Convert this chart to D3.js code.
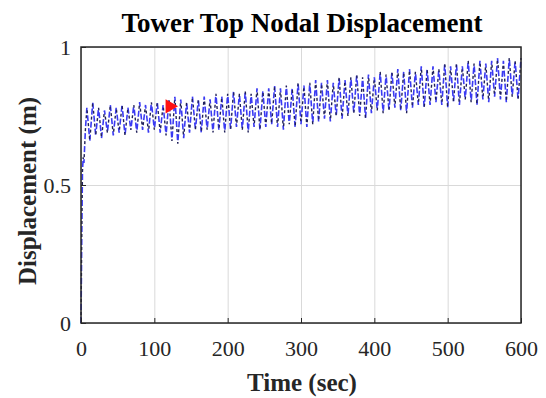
<!DOCTYPE html>
<html>
<head>
<meta charset="utf-8">
<script src="https://cdn.jsdelivr.net/npm/d3@7"></script>
<style>
  body { margin: 0; background: #fff; }
  svg text { font-family: "Liberation Serif", "Times New Roman", serif; }
</style>
</head>
<body>
<div id="box"></div>
<script>
// start-up of the response (time s, displacement m)
var riseTime = [0, 1, 2, 3, 4, 6];
var riseDisp = [0, 0.30, 0.55, 0.60, 0.58, 0.70];

// oscillation peaks, every 8 s starting at t = 8
var peakStart = 8;
var peakDisp = [
  0.78, 0.80, 0.78, 0.77, 0.79, 0.78, 0.79, 0.78, 0.79, 0.80,
  0.79, 0.80, 0.80, 0.79, 0.81, 0.82, 0.81, 0.80, 0.82, 0.81,
  0.82, 0.81, 0.83, 0.82, 0.83, 0.84, 0.83, 0.84, 0.83, 0.85,
  0.84, 0.85, 0.86, 0.85, 0.86, 0.85, 0.87, 0.86, 0.87, 0.88,
  0.87, 0.88, 0.87, 0.89, 0.88, 0.89, 0.90, 0.89, 0.90, 0.89,
  0.91, 0.90, 0.91, 0.92, 0.91, 0.92, 0.91, 0.93, 0.92, 0.93,
  0.92, 0.94, 0.93, 0.94, 0.93, 0.95, 0.94, 0.95, 0.94, 0.95,
  0.96, 0.95, 0.96, 0.95, 0.96
];

// oscillation troughs, every 8 s starting at t = 12
var troughStart = 12;
var troughDisp = [
  0.66, 0.68, 0.67, 0.69, 0.68, 0.69, 0.68, 0.70, 0.69, 0.70,
  0.69, 0.70, 0.69, 0.68, 0.66, 0.65, 0.67, 0.69, 0.70, 0.69,
  0.70, 0.69, 0.70, 0.69, 0.70, 0.71, 0.70, 0.69, 0.71, 0.70,
  0.71, 0.72, 0.71, 0.70, 0.72, 0.71, 0.72, 0.71, 0.72, 0.73,
  0.74, 0.73, 0.75, 0.74, 0.75, 0.76, 0.75, 0.74, 0.76, 0.77,
  0.76, 0.77, 0.78, 0.77, 0.76, 0.78, 0.79, 0.78, 0.79, 0.80,
  0.79, 0.78, 0.80, 0.79, 0.81, 0.80, 0.79, 0.81, 0.80, 0.82,
  0.81, 0.80, 0.82, 0.81
];
var cyclePeriod = 8;

var xTicks = [0, 100, 200, 300, 400, 500, 600];
var yTicks = [0, 0.5, 1];
var yTickLabels = ["0", "0.5", "1"];

// marked point
var marker = [121, 0.785];

var W = 546, H = 398;
var m = { left: 81, top: 47, right: 25, bottom: 75 };
var w = W - m.left - m.right,
    h = H - m.top - m.bottom;

// assemble the series
var series = [];
riseTime.forEach(function(t, i) { series.push([t, riseDisp[i]]); });
var n = Math.max(peakDisp.length, troughDisp.length);
for (var i = 0; i < n; i++) {
  if (i < peakDisp.length) series.push([peakStart + i * cyclePeriod, peakDisp[i]]);
  if (i < troughDisp.length) series.push([troughStart + i * cyclePeriod, troughDisp[i]]);
}

var x = d3.scaleLinear().domain([0, 600]).range([0, w]);
var y = d3.scaleLinear().domain([0, 1]).range([h, 0]);

var svg = d3.select("#box")
            .append("svg")
            .attr("width", W)
            .attr("height", H);

var g = svg.append("g")
           .attr("transform", "translate(" + m.left + "," + m.top + ")");

// grid
g.append("g")
 .attr("transform", "translate(0," + h + ")")
 .call(d3.axisBottom(x).tickValues(xTicks).tickSize(-h).tickFormat(""))
 .call(function(s) {
   s.select(".domain").remove();
   s.selectAll("line").attr("stroke", "#d9d9d9").attr("stroke-width", 1);
 });

g.append("g")
 .call(d3.axisLeft(y).tickValues(yTicks).tickSize(-w).tickFormat(""))
 .call(function(s) {
   s.select(".domain").remove();
   s.selectAll("line").attr("stroke", "#d9d9d9").attr("stroke-width", 1);
 });

// the data
var line = d3.line()
             .x(function(d) { return x(d[0]); })
             .y(function(d) { return y(d[1]); });

g.append("path")
 .datum(series)
 .attr("fill", "none")
 .attr("stroke", "#3a3af2")
 .attr("stroke-width", 1.6)
 .attr("stroke-dasharray", "6,7")
 .attr("d", line);

g.append("path")
 .datum(series)
 .attr("fill", "none")
 .attr("stroke", "#20205a")
 .attr("stroke-width", 1.4)
 .attr("stroke-dasharray", "3,10")
 .attr("stroke-dashoffset", -8)
 .attr("d", line);

g.append("path")
 .attr("transform", "translate(" + x(marker[0]) + "," + y(marker[1]) + ") rotate(90)")
 .attr("d", d3.symbol().type(d3.symbolTriangle).size(90))
 .attr("fill", "#ff1010");

// axes with inward ticks
var xAxis = g.append("g")
 .attr("transform", "translate(0," + h + ")")
 .call(d3.axisBottom(x).tickValues(xTicks).tickSize(-5).tickPadding(17));

var yAxis = g.append("g")
 .call(d3.axisLeft(y).tickValues(yTicks).tickSize(-5).tickPadding(10)
         .tickFormat(function(d, i) { return yTickLabels[i]; }));

[xAxis, yAxis].forEach(function(a) {
  a.select(".domain").remove();
  a.selectAll("line").attr("stroke", "#262626");
  a.selectAll("text")
   .attr("font-family", "Liberation Serif")
   .attr("font-size", "22px")
   .attr("fill", "#262626");
});

// box
g.append("rect")
 .attr("width", w)
 .attr("height", h)
 .attr("fill", "none")
 .attr("stroke", "#262626")
 .attr("stroke-width", 1.5);

// titles
svg.append("text")
   .attr("x", m.left + w / 2 + 1)
   .attr("y", 32)
   .attr("text-anchor", "middle")
   .attr("font-size", "27px")
   .attr("font-weight", "bold")
   .text("Tower Top Nodal Displacement");

svg.append("text")
   .attr("x", m.left + w / 2 + 1)
   .attr("y", 391)
   .attr("text-anchor", "middle")
   .attr("font-size", "25px")
   .attr("font-weight", "bold")
   .attr("fill", "#262626")
   .text("Time (sec)");

svg.append("text")
   .attr("transform", "translate(36," + (m.top + h / 2 + 6) + ") rotate(-90)")
   .attr("text-anchor", "middle")
   .attr("font-size", "25px")
   .attr("font-weight", "bold")
   .attr("fill", "#262626")
   .text("Displacement (m)");
</script>
</body>
</html>
